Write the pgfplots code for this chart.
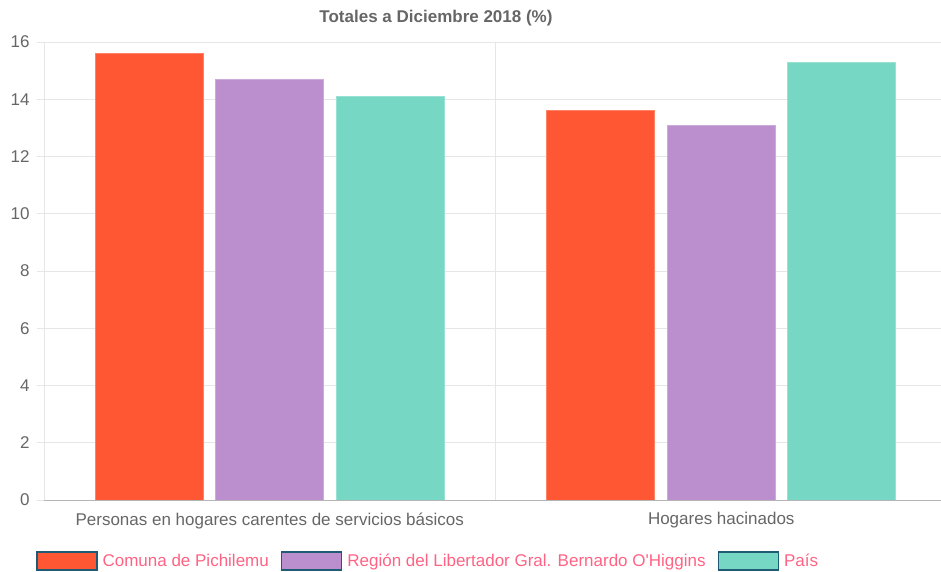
\documentclass[border=0pt]{standalone}
\usepackage{pgfplots}
\pgfplotsset{compat=1.18}
\usepackage{fontspec}
\setmainfont{Liberation Sans}[Ligatures=TeXOff]
\definecolor{c1}{HTML}{FF5733}
\definecolor{c2}{HTML}{BB8FCE}
\definecolor{c3}{HTML}{76D7C4}
\definecolor{txt}{HTML}{666666}
\definecolor{gridc}{HTML}{E6E6E6}
\definecolor{axc}{HTML}{B5B5B5}
\definecolor{legtxt}{HTML}{FF6384}
\definecolor{legbord}{HTML}{1F5C73}
\begin{document}
\begin{tikzpicture}
\path[use as bounding box] (0pt,0pt) rectangle (941pt,571pt);
\begin{axis}[
  at={(44pt,71pt)}, anchor=south west,
  scale only axis, width=903pt, height=458pt,
  ybar=12.5pt, bar width=108pt,
  xmin=-0.5, xmax=1.5, ymin=0, ymax=16,
  axis line style={draw=none},
  xtick={0,1},
  xticklabels={Personas en hogares carentes de servicios básicos, Hogares hacinados},
  x tick style={draw=none},
  extra x ticks={-0.5,0.5,1.5},
  extra x tick labels={},
  extra x tick style={grid=major, major tick length=16pt, tick align=outside, tick style={draw=gridc, line width=0.8pt}},
  ytick={0,2,...,16},
  ymajorgrids, major grid style={draw=gridc, line width=0.8pt},
  y tick style={draw=gridc, line width=0.8pt},
  tick align=outside, major tick length=7pt,
  /pgf/number format/assume math mode=true,
  tick label style={font=\fontsize{17}{20}\selectfont, text=txt},
  xticklabel style={yshift=-2pt},
  yticklabel style={xshift=-4pt},
  legend image code/.code={\draw[#1,draw=legbord,line width=1.5pt] (0pt,-9pt) rectangle (60pt,9pt);},
  legend style={at={(axis description cs:-0.009,-0.133)}, anchor=west, draw=none, fill=none,
    inner sep=0pt, legend columns=-1,
    font=\fontsize{17}{20}\selectfont, text=legtxt,
    /tikz/every odd column/.append style={column sep=3pt},
    /tikz/every even column/.append style={column sep=10pt}},
  legend cell align=left,
]
\addplot[fill=c1, draw=c1!75!white, line width=0.8pt] coordinates {(0,15.6) (1,13.6)};
\addplot[fill=c2, draw=c2!75!white, line width=0.8pt] coordinates {(0,14.7) (1,13.1)};
\addplot[fill=c3, draw=c3!75!white, line width=0.8pt] coordinates {(0,14.1) (1,15.3)};
\draw[axc, line width=0.8pt] (axis cs:-0.5,0) -- (axis cs:1.5,0);
\legend{Comuna de Pichilemu, Región del Libertador Gral. Bernardo O'Higgins, País}
\end{axis}
\node[font=\bfseries\fontsize{17}{20}\selectfont, text=txt] at (436pt,553pt) {Totales a Diciembre 2018 (\%)};
\end{tikzpicture}
\end{document}
